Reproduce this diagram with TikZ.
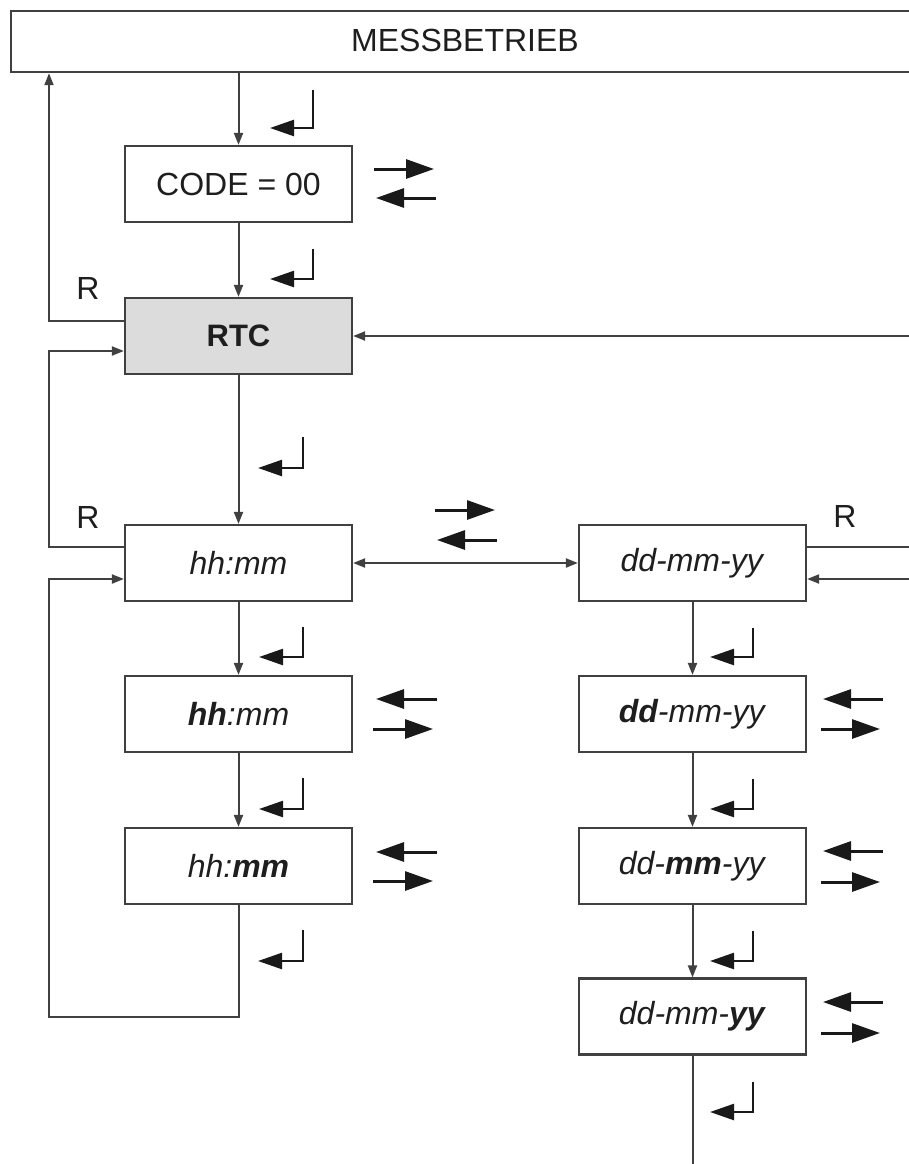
\documentclass[tikz,border=0pt]{standalone}
\usepackage{fontspec}
\setmainfont{Liberation Sans}
\usetikzlibrary{arrows.meta}
\definecolor{linec}{HTML}{404040}
\definecolor{textc}{HTML}{1E1E1E}
\definecolor{rtcfill}{HTML}{DCDCDC}
\tikzset{
  box/.style={draw=linec, line width=2.2pt, minimum width=227pt, minimum height=76pt, inner sep=0pt, text=textc, font=\fontsize{32}{38}\selectfont},
  conn/.style={draw=linec, line width=2pt, -{Triangle[length=12pt,width=9pt]}},
  plainconn/.style={draw=linec, line width=2pt},
  entr/.style={draw=black!90, line width=2.4pt, -{Triangle[length=24pt,width=16pt]}},
  pairarr/.style={draw=black!90, line width=3pt, -{Triangle[length=28pt,width=19pt]}},
  rlabel/.style={text=textc, font=\fontsize{32}{38}\selectfont, inner sep=0pt}
}
\newcommand\entersym[4]{\draw[entr] (#1,#2) -- (#1,#3) -- (#4,#3);}
\begin{document}
\begin{tikzpicture}[x=1pt,y=-1pt]
\useasboundingbox (0,0) rectangle (909,1164);
\clip (0,0) rectangle (909,1164);
% top box
\node[box, minimum width=920pt, minimum height=61pt, anchor=north west] (mess) at (10,10) {};
\node[rlabel] (messtxt) at (465,40) {MESSBETRIEB};
% boxes
\node[box] (code) at (238.5,184) {CODE = 00};
\node[box, fill=rtcfill, font=\fontsize{31}{38}\selectfont\bfseries] (rtc) at (238.5,336) {RTC};
\node[box] (hh) at (238.5,563) {\textit{hh:mm}};
\node[box] (hb) at (238.5,714) {\textit{\textbf{hh}:mm}};
\node[box] (hm) at (238.5,866) {\textit{hh:\textbf{mm}}};
\node[box] (dd) at (692.5,563) {\textit{dd-mm-yy}};
\node[box] (db) at (692.5,714) {\textit{\textbf{dd}-mm-yy}};
\node[box] (dm) at (692.5,866) {\textit{dd-\textbf{mm}-yy}};
\node[box] (dy) at (692.5,1016.5) {\textit{dd-mm-\textbf{yy}}};
% R labels
\node[rlabel] (r1) at (88,288) {R};
\node[rlabel] (r2) at (88,517) {R};
\node[rlabel] (r3) at (845,516) {R};
% helper coordinates
\coordinate (lx) at (49,0);
\coordinate (bot) at (49,1017);
\coordinate (rtcA) at ([yshift=15pt]rtc.west);
\coordinate (rtcB) at ([yshift=-15pt]rtc.west);
\coordinate (hhA) at ([yshift=16pt]hh.west);
\coordinate (hhB) at ([yshift=-16pt]hh.west);
\coordinate (ddA) at ([yshift=16pt]dd.east);
\coordinate (ddB) at ([yshift=-16pt]dd.east);
\coordinate (rE) at (915,336);
\coordinate (ddAe) at (915,547);
\coordinate (ddBe) at (915,579);
\coordinate (dyend) at (692.5,1170);
% connectors
\draw[conn] (code.north |- mess.south) -- (code.north);
\draw[conn] (code.south) -- (rtc.north);
\draw[conn] (rtcA) -| (mess.south -| lx);
\draw[conn] (hhA) -| (rtcB -| lx) -- (rtcB);
\draw[conn] (hm.south) |- (bot) |- (hhB);
\draw[conn] (rE) -- (rtc.east);
\draw[conn] (rtc.south) -- (hh.north);
\draw[conn] (hh.south) -- (hb.north);
\draw[conn] (hb.south) -- (hm.north);
\draw[conn, {Triangle[length=12pt,width=9pt]}-{Triangle[length=12pt,width=9pt]}] (hh.east) -- (dd.west);
\draw[plainconn] (ddA) -- (ddAe);
\draw[conn] (ddBe) -- (ddB);
\draw[conn] (dd.south) -- (db.north);
\draw[conn] (db.south) -- (dm.north);
\draw[conn] (dm.south) -- (dy.north);
\draw[plainconn] (dy.south) -- (dyend);
% enter symbols
\entersym{313}{90}{128}{270}
\entersym{313}{249}{279}{270}
\entersym{303}{437}{468}{258}
\entersym{303}{627}{657}{259}
\entersym{303}{778}{809}{259}
\entersym{303}{930}{961}{258}
\entersym{753}{628}{657}{710}
\entersym{753}{779}{809}{710}
\entersym{753}{931}{961}{710}
\entersym{753}{1082}{1112}{710}
% arrow pairs
\draw[pairarr] (374,169) -- (434,169);
\draw[pairarr] (436,198) -- (376,198);
\draw[pairarr] (435,510) -- (495,510);
\draw[pairarr] (497,540) -- (437,540);
\draw[pairarr] (437,699) -- (376,699);
\draw[pairarr] (373,729) -- (433,729);
\draw[pairarr] (437,852) -- (376,852);
\draw[pairarr] (373,881) -- (433,881);
\draw[pairarr] (883,699) -- (823,699);
\draw[pairarr] (821,729) -- (880,729);
\draw[pairarr] (883,851) -- (823,851);
\draw[pairarr] (821,882) -- (880,882);
\draw[pairarr] (883,1002) -- (823,1002);
\draw[pairarr] (821,1033) -- (880,1033);
\end{tikzpicture}
\end{document}
